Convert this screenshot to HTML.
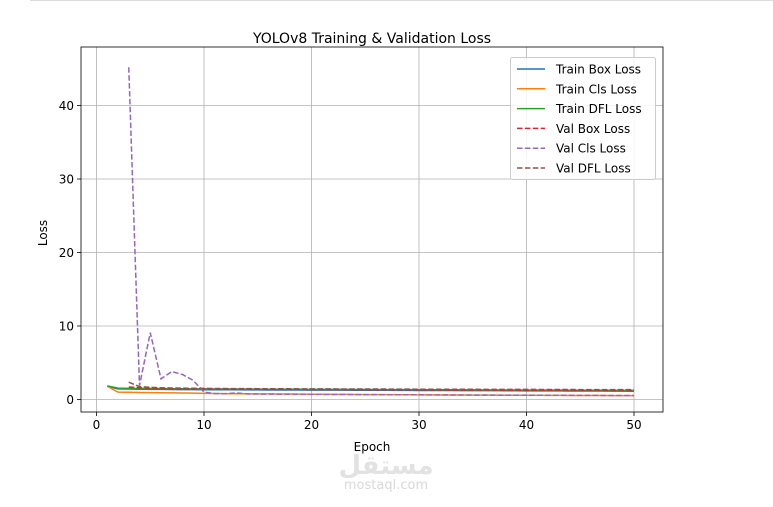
<!DOCTYPE html>
<html><head><meta charset="utf-8"><style>
body{margin:0;background:#fff;width:773px;height:502px;overflow:hidden;font-family:"Liberation Sans","DejaVu Sans",sans-serif}
svg text{font-family:"DejaVu Sans","Liberation Sans",sans-serif}
</style></head><body>
<svg id="chart" width="773" height="502" xmlns="http://www.w3.org/2000/svg">
<line x1="30" y1="0.5" x2="773" y2="0.5" stroke="#ddd"/>
<text x="372" y="43" font-size="14" text-anchor="middle" fill="#000">YOLOv8 Training &amp; Validation Loss</text>
<g id="grid"></g><g id="series"></g><g id="axes"></g>
<text x="372" y="451" font-size="12" text-anchor="middle">Epoch</text>
<text x="0" y="0" font-size="12" text-anchor="middle" transform="translate(47,233) rotate(-90)">Loss</text>
<g id="legend"></g>
<text x="386" y="474" font-size="26" font-weight="bold" text-anchor="middle" fill="#e2e2e2" font-family="DejaVu Sans">مستقل</text>
<text x="386" y="489" font-size="13" text-anchor="middle" fill="#d8d8d8">mostaql.com</text>
</svg>
<script>
const epochs=[1,2,3,4,5,6,7,8,9,10,11,12,13,14,15,16,17,18,19,20,21,22,23,24,25,26,27,28,29,30,31,32,33,34,35,36,37,38,39,40,41,42,43,44,45,46,47,48,49,50];
const trainBox=[1.8,1.45,1.42,1.4,1.38,1.37,1.36,1.35,1.34,1.33,1.33,1.32,1.32,1.31,1.31,1.3,1.3,1.29,1.29,1.28,1.28,1.27,1.27,1.26,1.26,1.25,1.25,1.24,1.24,1.23,1.23,1.22,1.22,1.21,1.21,1.2,1.2,1.19,1.19,1.18,1.18,1.17,1.17,1.16,1.16,1.15,1.15,1.14,1.14,1.13];
const trainCls=[1.8,1.0,0.98,0.96,0.94,0.92,0.9,0.88,0.86,0.84,0.82,0.8,0.79,0.78,0.77,0.76,0.75,0.74,0.73,0.72,0.71,0.7,0.69,0.68,0.67,0.66,0.66,0.65,0.64,0.63,0.63,0.62,0.61,0.61,0.6,0.6,0.59,0.58,0.58,0.57,0.57,0.56,0.56,0.55,0.55,0.54,0.54,0.53,0.53,0.52];
const trainDfl=[1.85,1.55,1.52,1.5,1.49,1.48,1.47,1.46,1.45,1.44,1.43,1.42,1.42,1.41,1.41,1.4,1.4,1.39,1.39,1.38,1.38,1.37,1.37,1.36,1.36,1.35,1.35,1.34,1.34,1.33,1.33,1.32,1.32,1.31,1.31,1.3,1.3,1.29,1.29,1.28,1.28,1.27,1.27,1.26,1.26,1.25,1.25,1.24,1.24,1.23];
const valBox=[null,null,1.7,1.6,1.55,1.5,1.48,1.46,1.45,1.44,1.42,1.41,1.4,1.4,1.39,1.38,1.38,1.37,1.37,1.36,1.36,1.35,1.35,1.34,1.34,1.33,1.33,1.32,1.32,1.31,1.31,1.3,1.3,1.3,1.29,1.29,1.28,1.28,1.28,1.27,1.27,1.26,1.26,1.26,1.25,1.25,1.25,1.24,1.24,1.24];
const valCls=[null,null,45.2,1.9,9.1,2.8,3.8,3.4,2.6,1.0,0.8,0.78,0.9,0.75,0.74,0.73,0.72,0.71,0.7,0.7,0.69,0.68,0.68,0.67,0.66,0.66,0.65,0.65,0.64,0.64,0.63,0.63,0.62,0.62,0.61,0.61,0.6,0.6,0.59,0.59,0.58,0.58,0.57,0.57,0.56,0.56,0.55,0.55,0.54,0.54];
const valDfl=[null,null,2.35,1.75,1.65,1.6,1.57,1.55,1.53,1.52,1.5,1.49,1.48,1.48,1.47,1.47,1.46,1.46,1.45,1.45,1.44,1.44,1.43,1.43,1.42,1.42,1.42,1.41,1.41,1.4,1.4,1.4,1.39,1.39,1.39,1.38,1.38,1.38,1.37,1.37,1.37,1.36,1.36,1.36,1.35,1.35,1.35,1.34,1.34,1.34];
const xTicks=[0,10,20,30,40,50];
const yTicks=[0,10,20,30,40];
const seriesNames=["Train Box Loss","Train Cls Loss","Train DFL Loss","Val Box Loss","Val Cls Loss","Val DFL Loss"];
const NS="http://www.w3.org/2000/svg";
const L=81,R=663,T=47,B=412;
const xs=v=>96.5+(v-0)*(634-96.5)/50;
const ys=v=>399.5-v*(399.5-105.5)/40;
function mk(tag,attrs,parent){const e=document.createElementNS(NS,tag);for(const k in attrs)e.setAttribute(k,attrs[k]);parent.appendChild(e);return e;}
const grid=document.getElementById('grid'),axes=document.getElementById('axes'),ser=document.getElementById('series'),leg=document.getElementById('legend');
xTicks.forEach(t=>{const x=xs(t);
 const g=mk('line',{x1:x,x2:x,y1:T,y2:B,stroke:'#b0b0b0','stroke-width':0.8},grid);
 
 
 const tk=mk('line',{x1:x,x2:x,y1:B,y2:B+4,stroke:'#000','stroke-width':0.8},axes);
 
 
 const tx=mk('text',{x:x,y:B+17,'font-size':12,'text-anchor':'middle'},axes);tx.textContent=t;
 
 });
yTicks.forEach(t=>{const y=ys(t);
 const g=mk('line',{x1:L,x2:R,y1:y,y2:y,stroke:'#b0b0b0','stroke-width':0.8},grid);
 
 
 const tk=mk('line',{x1:L-4,x2:L,y1:y,y2:y,stroke:'#000','stroke-width':0.8},axes);
 
 
 const tx=mk('text',{x:L-7,y:y+4.5,'font-size':12,'text-anchor':'end'},axes);tx.textContent=t;
 
 });
const frame=mk('rect',{x:L,y:T,width:R-L,height:B-T,fill:'none',stroke:'#000','stroke-width':0.8},axes);


const data=[trainBox,trainCls,trainDfl,valBox,valCls,valDfl];
const colors=['#1f77b4','#ff7f0e','#2ca02c','#d62728','#9467bd','#8c564b'];
const dashes=[null,null,null,'5.5,2.4','5.5,2.4','5.5,2.4'];
const slugs=['train-box-loss','train-cls-loss','train-dfl-loss','val-box-loss','val-cls-loss','val-dfl-loss'];
data.forEach((arr,i)=>{let d='';let started=false;
 arr.forEach((v,j)=>{if(v==null)return;d+=(started?'L':'M')+xs(epochs[j]).toFixed(2)+','+ys(v).toFixed(2);started=true;});
 const a={d:d,fill:'none',stroke:colors[i],'stroke-width':1.5};if(dashes[i])a['stroke-dasharray']=dashes[i];
 const p=mk('path',a,ser);
 
 });
const box=mk('rect',{x:510.5,y:57.5,width:145,height:122,fill:'#fff','fill-opacity':0.85,stroke:'#ccc',rx:2},leg);


seriesNames.forEach((n,i)=>{const y=69+i*19.8;
 const a={x1:517,x2:545,y1:y,y2:y,stroke:colors[i],'stroke-width':1.5};if(dashes[i])a['stroke-dasharray']=dashes[i];
 const ln=mk('line',a,leg);
 
 
 const t=mk('text',{x:556,y:y+4.5,'font-size':12},leg);t.textContent=n;
 
 });
</script>
</body></html>
